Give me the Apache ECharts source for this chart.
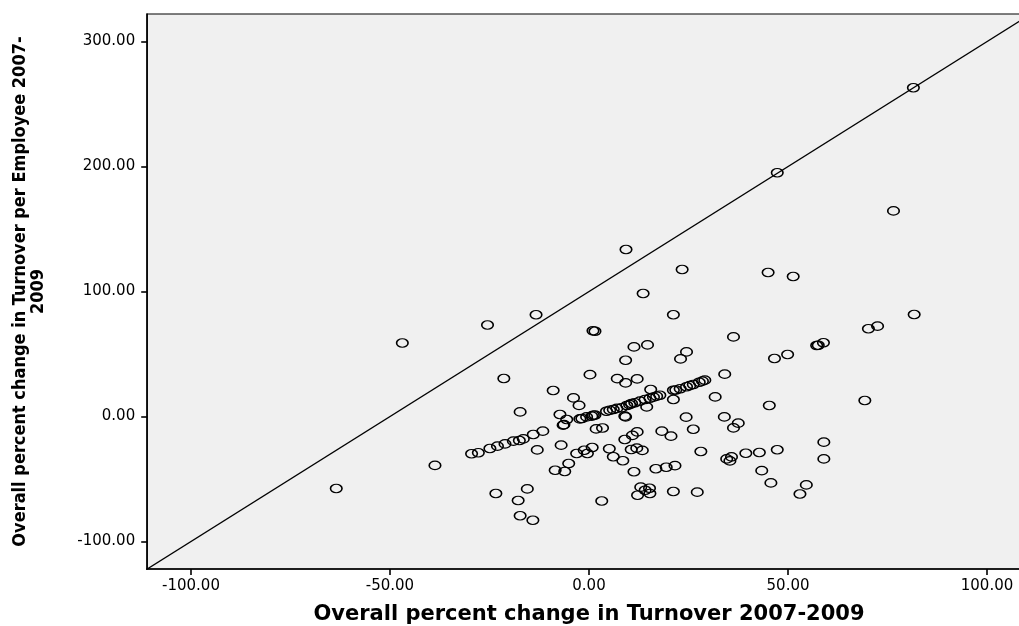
<!DOCTYPE html>
<html>
<head>
<meta charset="utf-8">
<script src="https://cdn.jsdelivr.net/npm/echarts@6/dist/echarts.min.js"></script>
<style>html,body{margin:0;padding:0;background:#fff;}#c{width:1019px;height:626px;}</style>
</head>
<body>
<div id="c"></div>
<script>
// Axis titles and tick labels
var xTitle = 'Overall percent change in Turnover 2007-2009';
var yTitle = 'Overall percent change in Turnover per Employee 2007-\n2009';
var xTicks = [-100, -50, 0, 50, 100];
var yTicks = [-100, 0, 100, 200, 300];

// Scatter points: [turnover change, turnover-per-employee change]
var pointsUpper = [
  [81.5, 263], [47.3, 195], [76.5, 164.5], [9.3, 133.6], [23.4, 117.6], [45.0, 115.2],
  [51.3, 112], [13.6, 98.4], [-25.5, 73.2], [-13.3, 81.4], [21.2, 81.4], [81.7, 81.6],
  [-46.9, 58.8], [1.0, 68.6], [1.5, 68.2], [36.3, 63.7], [46.6, 46.4], [49.9, 49.6],
  [57.2, 56.8], [57.6, 57.0], [58.9, 59.0], [70.2, 70.2], [72.5, 72.3], [11.3, 55.7],
  [14.7, 57.3], [9.2, 45.0], [23.0, 46.1], [24.5, 51.7], [0.25, 33.5], [-21.4, 30.4],
  [7.1, 30.3], [9.2, 26.9], [12.1, 30.1], [34.1, 33.9], [-9.0, 20.8], [15.5, 21.6],
  [31.7, 15.7], [-3.9, 14.9], [-2.5, 8.9], [45.3, 8.8], [-17.3, 3.7], [69.3, 12.8],
  [21.2, 13.6], [14.5, 7.7], [-7.3, 1.6]
];
var pointsDiagonal = [
  [-29.5, -29.8], [-27.8, -29.0], [-24.9, -25.6], [-23.0, -23.7], [-21.1, -21.9],
  [-19.0, -19.7], [-17.5, -19.2], [-16.5, -17.9], [-14.0, -14.4], [-11.6, -11.7],
  [-5.6, -2.4], [-6.5, -6.9], [-6.3, -6.5], [-2.3, -1.9], [-1.8, -1.6], [-0.6, -0.3],
  [0.7, 0.3], [1.1, 1.0], [1.5, 1.2], [4.4, 4.2], [5.2, 5.0], [6.1, 5.6], [7.0, 6.5],
  [8.2, 7.0], [9.5, 8.8], [10.2, 9.5], [10.7, 10.4], [11.5, 11.0], [12.8, 12.3],
  [14.1, 13.6], [15.3, 14.6], [16.2, 15.5], [17.0, 16.3], [17.8, 17.0], [21.2, 21.0],
  [21.8, 21.2], [22.9, 22.2], [24.5, 23.8], [25.3, 24.7], [26.2, 25.6], [27.7, 27.4],
  [28.5, 28.3], [29.1, 29.1]
];
var pointsLower = [
  [1.8, -9.9], [3.4, -9.2], [9.0, 0.3], [9.2, -0.3], [24.4, -0.5], [34.0, -0.3],
  [26.2, -10.2], [36.3, -9.1], [37.5, -5.3], [18.3, -11.7], [20.6, -15.7], [9.0, -18.4],
  [10.9, -15.1], [12.1, -12.3], [-7.0, -22.9], [-13.0, -26.7], [-3.1, -29.6], [-1.2, -27.0],
  [-0.4, -29.6], [0.8, -24.8], [5.1, -25.8], [6.1, -32.2], [8.5, -35.4], [10.6, -26.4],
  [12.0, -25.3], [13.4, -27.1], [28.1, -28], [34.6, -33.9], [35.8, -32.3], [35.4, -35.5],
  [39.4, -29.4], [42.8, -28.8], [47.3, -26.6], [59.0, -20.5], [59.0, -33.9], [-38.7, -39.1],
  [-5.1, -37.6], [-8.5, -43], [-6.1, -44], [11.3, -44.2], [16.8, -41.8], [19.4, -40.6],
  [21.6, -39.3], [43.4, -43.3], [45.7, -53.1], [54.6, -54.7], [53.0, -62], [13.0, -56.5],
  [14.1, -59], [15.2, -57.4], [12.2, -63], [15.3, -61.6], [21.2, -60], [27.2, -60.5],
  [3.2, -67.6], [-23.4, -61.6], [-15.5, -57.9], [-17.8, -67.2], [-17.3, -79.4],
  [-14.1, -83.0], [-63.5, -57.6]
];
// Reference line end points
var refLine = [[-115, -130], [115, 330]];

var allPoints = pointsUpper.concat(pointsDiagonal, pointsLower);

var chart = echarts.init(document.getElementById('c'), null, {renderer: 'canvas'});
var labelFont = {fontFamily: 'DejaVu Sans', fontSize: 15, color: '#000'};
chart.setOption({
  animation: false,
  backgroundColor: '#fff',
  grid: {
    left: 147.2, top: 14, width: 883.6, height: 555,
    outerBoundsMode: 'none', containLabel: false,
    show: true, backgroundColor: '#f0f0f0', borderColor: '#000', borderWidth: 1.2
  },
  xAxis: {
    type: 'value', min: -111, max: 111,
    splitLine: {show: false},
    axisLine: {show: true, onZero: false, lineStyle: {color: '#000', width: 1.6}},
    axisTick: {show: true, length: 6, lineStyle: {color: '#000', width: 1.6}, customValues: xTicks},
    axisLabel: Object.assign({margin: 10, customValues: xTicks, formatter: function (v) { return v.toFixed(2); }}, labelFont),
    name: xTitle, nameLocation: 'middle', nameGap: 35,
    nameTextStyle: {fontFamily: 'DejaVu Sans', fontWeight: 'bold', fontSize: 21, color: '#000'}
  },
  yAxis: {
    type: 'value', min: -122, max: 322,
    splitLine: {show: false},
    axisLine: {show: true, onZero: false, lineStyle: {color: '#000', width: 1.6}},
    axisTick: {show: true, length: 6, lineStyle: {color: '#000', width: 1.6}, customValues: yTicks},
    axisLabel: Object.assign({margin: 12, customValues: yTicks, formatter: function (v) { return v.toFixed(2); }}, labelFont),
    name: yTitle, nameLocation: 'middle', nameRotate: 90, nameGap: 100,
    nameTextStyle: {fontFamily: "'DejaVu Sans Condensed', 'Liberation Sans'", fontWeight: 'bold', fontSize: 18, lineHeight: 18, color: '#000', align: 'center'}
  },
  series: [
    {
      type: 'line', data: refLine, symbol: 'none', silent: true, clip: true,
      lineStyle: {color: '#000', width: 1.3}, z: 2
    },
    {
      type: 'scatter', data: allPoints, symbol: 'circle', symbolSize: [11.5, 8.5],
      itemStyle: {color: 'rgba(0,0,0,0)', borderColor: '#000', borderWidth: 1.4, opacity: 1},
      clip: true, z: 3
    }
  ]
});
</script>
</body>
</html>
